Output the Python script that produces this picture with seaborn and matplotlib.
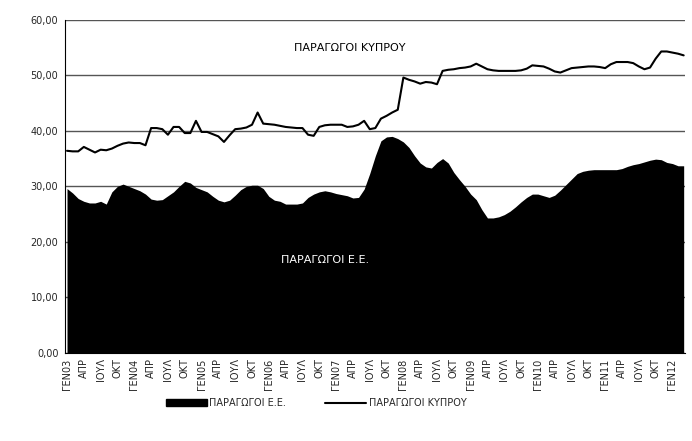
import numpy as np
import pandas as pd
import matplotlib
matplotlib.use('Agg')
import matplotlib.pyplot as plt
from matplotlib.patches import Patch
from matplotlib.lines import Line2D
import seaborn as sns

# monthly values, Jan 2003 .. Mar 2012
cyprus = [36.4, 36.3, 36.3, 37.1, 36.6, 36.1, 36.6, 36.5, 36.8, 37.3, 37.7, 37.9,
          37.8, 37.8, 37.4, 40.5, 40.5, 40.3, 39.3, 40.7, 40.7, 39.6, 39.6, 41.8,
          39.8, 39.8, 39.4, 39.0, 38.0, 39.2, 40.3, 40.4, 40.6, 41.1, 43.3, 41.3,
          41.2, 41.1, 40.9, 40.7, 40.6, 40.5, 40.5, 39.3, 39.1, 40.7, 41.0, 41.1,
          41.1, 41.1, 40.7, 40.8, 41.1, 41.8, 40.3, 40.5, 42.2, 42.7, 43.3, 43.8,
          49.6, 49.2, 48.9, 48.5, 48.8, 48.7, 48.4, 50.8, 51.0, 51.1, 51.3, 51.4,
          51.6, 52.1, 51.6, 51.1, 50.9, 50.8, 50.8, 50.8, 50.8, 50.9, 51.2, 51.8,
          51.7, 51.6, 51.2, 50.7, 50.5, 50.9, 51.3, 51.4, 51.5, 51.6, 51.6, 51.5,
          51.3, 52.0, 52.4, 52.4, 52.4, 52.2, 51.6, 51.1, 51.4, 53.0, 54.3, 54.3,
          54.1, 53.9, 53.6]
eu = [29.6, 28.8, 27.8, 27.3, 27.0, 27.0, 27.3, 26.8, 29.0, 30.0, 30.4, 30.0,
      29.6, 29.2, 28.6, 27.7, 27.5, 27.6, 28.3, 29.0, 30.0, 30.9, 30.6, 29.8,
      29.4, 29.0, 28.2, 27.5, 27.2, 27.5, 28.4, 29.4, 30.0, 30.2, 30.2, 29.6,
      28.2, 27.5, 27.3, 26.8, 26.8, 26.8, 27.0, 28.0, 28.6, 29.0, 29.2, 29.0,
      28.7, 28.5, 28.3, 27.9, 28.0, 29.5, 32.3, 35.5, 38.2, 38.9, 39.0, 38.6,
      38.0, 37.0, 35.5, 34.2, 33.5, 33.3, 34.3, 35.0, 34.2, 32.5, 31.2, 30.0,
      28.6, 27.6, 25.8, 24.3, 24.3, 24.5, 24.9, 25.5, 26.3, 27.2, 28.0, 28.6,
      28.6, 28.3, 28.0, 28.4, 29.3, 30.3, 31.3, 32.3, 32.7, 32.9, 33.0, 33.0,
      33.0, 33.0, 33.0, 33.2, 33.6, 33.9, 34.1, 34.4, 34.7, 34.9, 34.8, 34.3,
      34.1, 33.7, 33.7]

years = ['03', '04', '05', '06', '07', '08', '09', '10', '11', '12']
quarters = ['ΓΕΝ', 'ΑΠΡ', 'ΙΟΥΛ', 'ΟΚΤ']
tick_labels = []
for y in years:
    for q in quarters:
        tick_labels.append('ΓΕΝ' + y if q == 'ΓΕΝ' else q)
tick_labels = tick_labels[:37]

df = pd.DataFrame({'month': np.arange(len(cyprus)), 'cyprus': cyprus, 'eu': eu})

sns.set_style('white')
plt.rcParams['font.family'] = ['DejaVu Sans']

fig = plt.figure(figsize=(6.92, 4.41), dpi=100)
ax = fig.add_axes([0.0944, 0.2, 0.896, 0.755])

ax.fill_between(df['month'], 0, df['eu'], color='black', lw=0, zorder=2)
sns.lineplot(data=df, x='month', y='cyprus', color='black', lw=1.5, ax=ax, zorder=3)

ax.set_xlim(-0.3, 110.3)
ax.set_ylim(0, 60)
ax.set_yticks(range(0, 61, 10))
ax.set_yticklabels(['%d,00' % v for v in range(0, 61, 10)], fontsize=7)
ax.set_xticks(range(0, 3 * len(tick_labels), 3))
ax.set_xticklabels(tick_labels, rotation=90, fontsize=7)
ax.set_xticks(range(0, 111), minor=True)
ax.tick_params(axis='x', which='major', length=4, width=0.8, direction='inout', pad=2)
ax.tick_params(axis='x', which='minor', length=2, width=0.6, direction='inout')
ax.tick_params(axis='y', length=3, direction='out', pad=2)
ax.set_xlabel('')
ax.set_ylabel('')
ax.grid(axis='y', color='#555555', lw=1.0, zorder=1)
ax.set_axisbelow(True)
for s in ['top', 'right']:
    ax.spines[s].set_visible(False)
ax.spines['left'].set_color('black')
ax.spines['bottom'].set_color('black')
ax.spines['left'].set_linestyle((0, (6, 1, 1, 1)))

ax.text(50.5, 55, 'ΠΑΡΑΓΩΓΟΙ ΚΥΠΡΟΥ', fontsize=8, ha='center', va='center', color='black')
ax.text(46, 16.8, 'ΠΑΡΑΓΩΓΟΙ Ε.Ε.', fontsize=8, ha='center', va='center', color='white', zorder=4)

handles = [Patch(facecolor='black', edgecolor='black'),
           Line2D([0], [0], color='black', lw=1.5)]
fig.legend(handles, ['ΠΑΡΑΓΩΓΟΙ Ε.Ε.', 'ΠΑΡΑΓΩΓΟΙ ΚΥΠΡΟΥ'], loc='center',
           bbox_to_anchor=(0.457, 0.086), ncol=2, frameon=False, fontsize=7,
           handlelength=4.2, handleheight=0.8, columnspacing=4, handletextpad=0.3)

fig.savefig('out.png', dpi=100)
